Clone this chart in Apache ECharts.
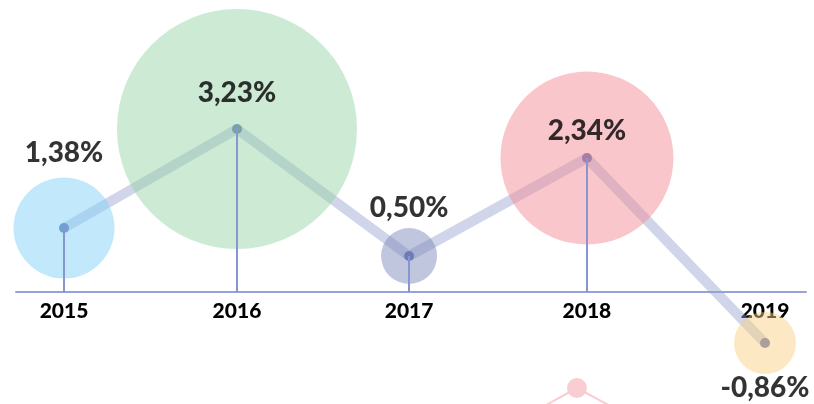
<!DOCTYPE html>
<html>
<head>
<meta charset="utf-8">
<script src="https://cdn.jsdelivr.net/npm/echarts@6/dist/echarts.min.js"></script>
<style>
  html, body { margin: 0; padding: 0; background: #fff; }
  #chart { width: 814px; height: 404px; }
</style>
</head>
<body>
<div id="chart"></div>
<script>
// data
const years = [2015, 2016, 2017, 2018, 2019];
const xPos = [2015, 2015.987, 2016.969, 2017.984, 2019];
const heights = [64, 163, 36, 134, -51];
const rates = ["1,38%", "3,23%", "0,50%", "2,34%", "-0,86%"];
const bubbleSizes = [101, 240, 56, 173, 62];
const bubbleColors = [
  "rgba(128,210,247,0.6)",
  "rgba(150,212,168,0.6)",
  "rgba(123,136,187,0.6)",
  "rgba(243,138,147,0.6)",
  "rgba(248,210,130,0.6)",
];
const labelOffsets = [-75, -36, -48, -27, 45];
// partly visible pink shape at the bottom
const decoX = [2017.70, 2017.927, 2018.16];
const decoY = [-118, -96, -118];

const chart = echarts.init(document.getElementById("chart"));

const points = xPos.map((x, i) => [x, heights[i]]);

const options = {
  animation: false,
  grid: { left: 16, right: 8, top: 0, bottom: 112, outerBoundsMode: "none", containLabel: false },
  xAxis: {
    type: "value",
    min: 2014.726,
    max: 2019.234,
    splitLine: { show: false },
    axisLine: { show: true, lineStyle: { color: "#97a2d6", width: 2 } },
    axisTick: { show: false },
    axisLabel: {
      customValues: xPos,
      formatter: (v) => String(years[xPos.indexOf(v)]),
      color: "#000",
      fontFamily: "Lato",
      fontWeight: 900,
      fontSize: 21,
      margin: 9,
    },
  },
  yAxis: {
    type: "value",
    min: 0,
    max: 292,
    show: false,
    splitLine: { show: false },
  },
  series: [
    {
      type: "line",
      data: decoX.map((x, i) => [x, decoY[i]]),
      symbol: "circle",
      symbolSize: (v, p) => (p.dataIndex === 1 ? 20 : 0),
      itemStyle: { color: "#f9cdd1" },
      lineStyle: { color: "#f9cdd1", width: 2 },
      clip: false,
      z: 1,
    },
    {
      type: "line",
      data: points,
      symbol: "circle",
      symbolSize: 10,
      clip: false,
      itemStyle: { color: "#6272b0" },
      lineStyle: { color: "rgba(151,162,209,0.45)", width: 10 },
      markLine: {
        silent: true,
        symbol: "none",
        label: { show: false },
        lineStyle: { color: "#8796d0", width: 2, type: "solid" },
        data: points.map((p) => [{ coord: [p[0], 0] }, { coord: p }]),
      },
      z: 2,
    },
    {
      type: "scatter",
      clip: false,
      data: points.map((p, i) => ({
        value: p,
        symbolSize: bubbleSizes[i],
        itemStyle: { color: bubbleColors[i] },
      })),
      z: 3,
    },
    {
      type: "scatter",
      clip: false,
      data: points.map((p, i) => ({
        value: p,
        label: {
          show: true,
          position: "inside",
          offset: [0, labelOffsets[i]],
          formatter: rates[i],
        },
      })),
      symbolSize: 0,
      label: {
        color: "#000",
        fontFamily: "Lato",
        fontWeight: 900,
        fontSize: 28,
      },
      z: 4,
    },
  ],
};

chart.setOption(options);
</script>
</body>
</html>
